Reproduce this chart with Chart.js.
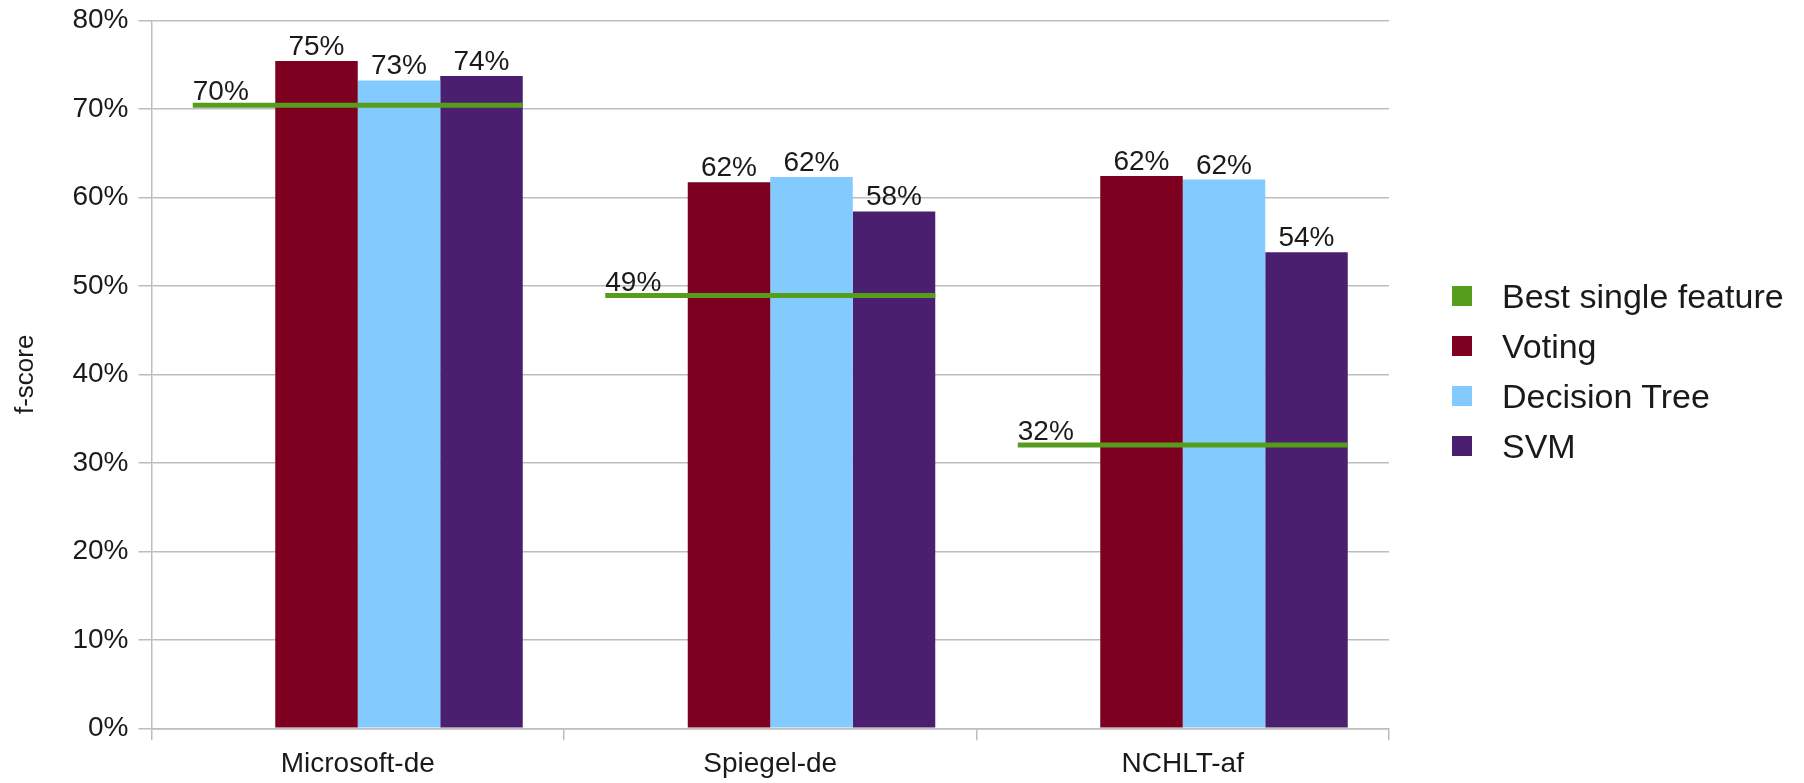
<!DOCTYPE html>
<html>
<head>
<meta charset="utf-8">
<title>f-score by dataset</title>
<script src="https://cdn.jsdelivr.net/npm/chart.js@4/dist/chart.umd.min.js"></script>
<style>
  html, body { margin: 0; padding: 0; background: #fff; }
  #wrap { position: relative; width: 1804px; height: 783px; overflow: hidden; }
  #c { position: absolute; left: 0; top: 0; }
  #legend {
    position: absolute; left: 1452px; top: 271px;
    font-family: "Liberation Sans", Arial, sans-serif; font-size: 34px; color: #1a1a1a;
  }
  #legend .row { display: flex; align-items: center; height: 50px; line-height: 50px; white-space: nowrap; }
  #legend .sw { width: 20px; height: 20px; margin-right: 30px; flex: none; }
</style>
</head>
<body>
<div id="wrap">
  <canvas id="c" width="1804" height="783"></canvas>
  <div id="legend"></div>
</div>
<script>
// Data (f-score, percent)
const categories = ['Microsoft-de', 'Spiegel-de', 'NCHLT-af'];
const bestSingleFeature = [70.4, 48.9, 32.0];
const voting = [75.4, 61.7, 62.4];
const decisionTree = [73.2, 62.3, 62.0];
const svm = [73.7, 58.4, 53.8];
const seriesNames = ['Best single feature', 'Voting', 'Decision Tree', 'SVM'];
const seriesColors = ['#579d1c', '#7e0021', '#83caff', '#4b1f6f'];
const yTickValues = [0, 10, 20, 30, 40, 50, 60, 70, 80];
const yTitle = 'f-score';

const FONT = '"Liberation Sans", Arial, sans-serif';
const TEXT = '#1a1a1a';
const GRID = '#bdbdbd';
const pct = v => Math.round(v) + '%';

Chart.defaults.font.family = FONT;
Chart.defaults.font.size = 28;
Chart.defaults.color = TEXT;

// Value labels on the bars, and the baseline series drawn as a
// horizontal rule spanning its slot plus the three bars of the group.
const markPlugin = {
  id: 'groupMarks',
  afterDatasetsDraw(chart) {
    const ctx = chart.ctx;
    const base = chart.getDatasetMeta(0);
    const lastIdx = chart.data.datasets.length - 1;
    const lastMeta = chart.getDatasetMeta(lastIdx);
    ctx.save();
    ctx.font = '28px ' + FONT;
    ctx.fillStyle = TEXT;
    ctx.textBaseline = 'alphabetic';
    ctx.textAlign = 'center';
    for (let d = 1; d <= lastIdx; d++) {
      const meta = chart.getDatasetMeta(d);
      const vals = chart.data.datasets[d].data;
      meta.data.forEach((bar, i) => ctx.fillText(pct(vals[i]), bar.x, bar.y - 6));
    }
    ctx.lineCap = 'butt';
    ctx.strokeStyle = seriesColors[0];
    ctx.lineWidth = 5;
    ctx.textAlign = 'left';
    base.data.forEach((el, i) => {
      const endBar = lastMeta.data[i];
      const x0 = el.x - el.width / 2;
      const x1 = endBar.x + endBar.width / 2;
      ctx.beginPath();
      ctx.moveTo(x0, el.y);
      ctx.lineTo(x1, el.y);
      ctx.stroke();
      ctx.fillText(pct(bestSingleFeature[i]), x0, el.y - 5);
    });
    ctx.restore();
  }
};

const seriesData = [bestSingleFeature, voting, decisionTree, svm];
const datasets = seriesData.map((data, k) => ({
  label: seriesNames[k],
  data: data,
  backgroundColor: k === 0 ? 'rgba(0,0,0,0)' : seriesColors[k],
  borderWidth: 0,
  categoryPercentage: 0.8,
  barPercentage: 1.0
}));

new Chart(document.getElementById('c'), {
  type: 'bar',
  data: { labels: categories, datasets: datasets },
  options: {
    responsive: false,
    devicePixelRatio: 1,
    animation: false,
    layout: { padding: { top: 20.3, right: 415, left: 0, bottom: 0 } },
    plugins: { legend: { display: false }, tooltip: { enabled: false } },
    scales: {
      x: {
        offset: true,
        grid: {
          display: true,
          offset: true,
          drawOnChartArea: true,
          color: c => (c.index === categories.length ? GRID : 'rgba(0,0,0,0)'),
          tickColor: GRID,
          tickLength: 12,
          lineWidth: 1.5
        },
        border: { display: true, color: GRID, width: 1.5 },
        ticks: { padding: 7, color: TEXT, font: { size: 28 } },
        afterFit: s => { s.height = 54.7; s.paddingLeft = 0; s.paddingRight = 0; }
      },
      y: {
        min: 0,
        max: 80,
        afterBuildTicks: s => { s.ticks = yTickValues.map(v => ({ value: v })); },
        grid: { color: GRID, lineWidth: 1.5, tickLength: 13, drawTicks: true },
        border: { display: true, color: GRID, width: 1.5 },
        ticks: { callback: v => v + '%', padding: 10, color: TEXT, font: { size: 28 } },
        title: { display: true, text: yTitle, color: TEXT, font: { size: 26 }, padding: { top: 10, bottom: 0 } },
        afterFit: s => { s.width = 151.5; s.paddingTop = 0; s.paddingBottom = 0; }
      }
    }
  },
  plugins: [markPlugin]
});

// Legend
const legend = document.getElementById('legend');
seriesNames.forEach((name, k) => {
  const row = document.createElement('div');
  row.className = 'row';
  const sw = document.createElement('span');
  sw.className = 'sw';
  sw.style.background = seriesColors[k];
  const tx = document.createElement('span');
  tx.textContent = name;
  row.appendChild(sw);
  row.appendChild(tx);
  legend.appendChild(row);
});
</script>
</body>
</html>
